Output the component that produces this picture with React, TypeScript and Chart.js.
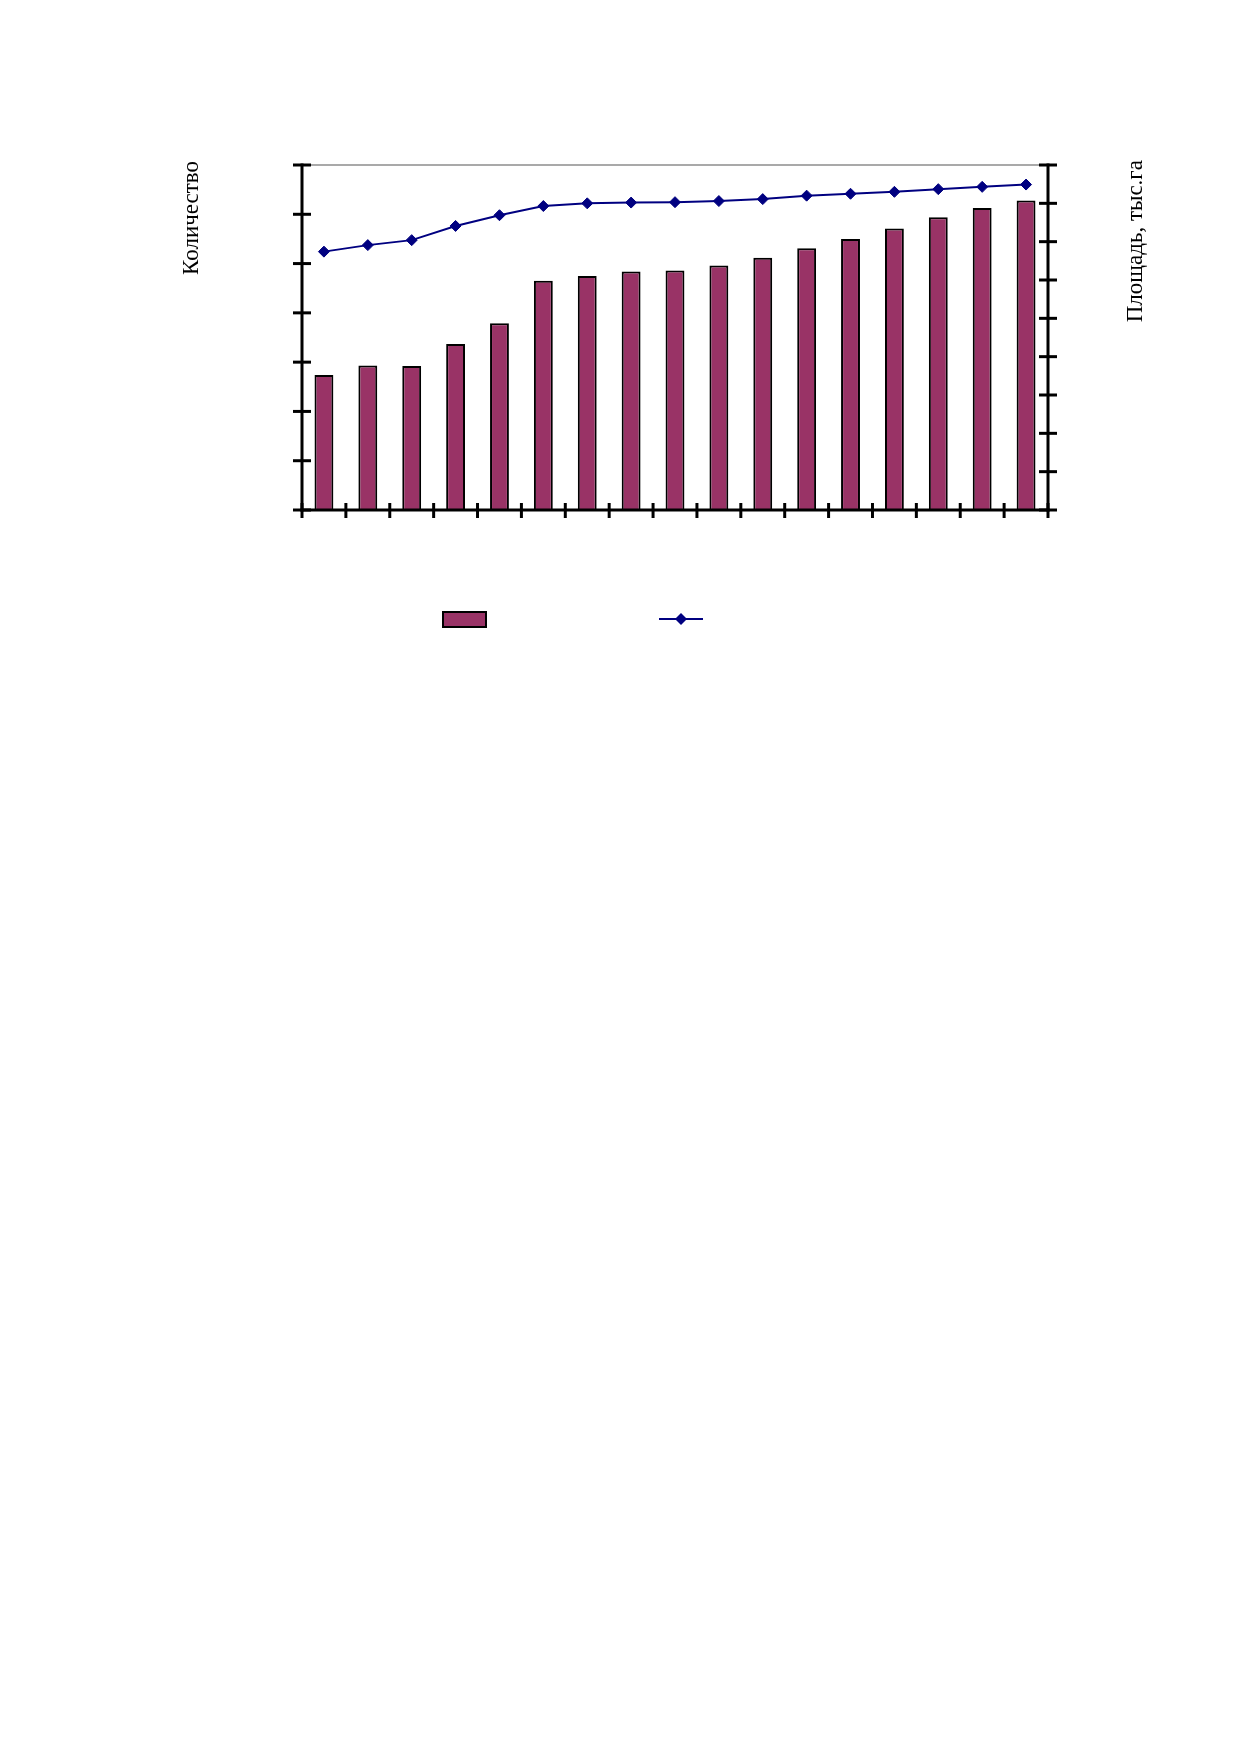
import React, { useEffect, useRef } from "react";
import { Chart, registerables } from "chart.js";

Chart.register(...registerables);

// categories (years are not printed on the chart)
const years = [
  "1991", "1992", "1993", "1994", "1995", "1996", "1997", "1998", "1999",
  "2000", "2001", "2002", "2003", "2004", "2005", "2006", "2007",
];

// bars, left axis
const countValues = [274, 293, 292, 337, 379, 465, 475, 484, 486, 496, 512, 531, 550, 571, 594, 613, 628];

// line, right axis
const areaValues = [674, 691, 704, 741, 769, 793, 800, 802, 803, 806, 811, 820, 825, 830, 837, 843, 849];

const countAxis = { min: 0, max: 700, step: 100 };
const areaAxis = { min: 0, max: 900, step: 100 };

const countTitle = "Количество";
const areaTitle = "Площадь, тыс.га";

const BAR_COLOR = "#993366";
const LINE_COLOR = "#000080";
const TITLE_FONT = '23px "Liberation Serif", "DejaVu Serif", serif';

// axes drawn as in the original: thick black lines with crossing tick marks
const axisFrame = {
  id: "axisFrame",
  afterDatasetsDraw(chart: any) {
    const { ctx, chartArea, scales } = chart;
    const { left, right, top, bottom } = chartArea;
    const seg = (x1: number, y1: number, x2: number, y2: number) => {
      ctx.beginPath();
      ctx.moveTo(x1, y1);
      ctx.lineTo(x2, y2);
      ctx.stroke();
    };
    ctx.save();
    ctx.lineCap = "butt";

    ctx.strokeStyle = "#8c8c8c";
    ctx.lineWidth = 1.5;
    seg(left, top, right, top);

    ctx.strokeStyle = "#000000";
    ctx.lineWidth = 3;
    seg(left, top - 1.5, left, bottom + 1.5);
    seg(right, top - 1.5, right, bottom + 1.5);
    seg(left - 1.5, bottom, right + 1.5, bottom);

    scales.yCount.ticks.forEach((t: any) => {
      const y = scales.yCount.getPixelForValue(t.value);
      seg(left - 9, y, left + 9, y);
    });
    scales.yArea.ticks.forEach((t: any) => {
      const y = scales.yArea.getPixelForValue(t.value);
      seg(right - 9, y, right + 9, y);
    });
    for (let i = 0; i <= chart.data.labels.length; i++) {
      const x = scales.x.getPixelForValue(i - 0.5);
      seg(x, bottom - 7, x, bottom + 8);
    }

    // axis titles, both read bottom to top
    ctx.fillStyle = "#000000";
    ctx.font = TITLE_FONT;
    ctx.textAlign = "right";
    ctx.textBaseline = "alphabetic";
    ctx.save();
    ctx.translate(left - 104, top - 4);
    ctx.rotate(-Math.PI / 2);
    ctx.fillText(countTitle, 0, 0);
    ctx.restore();
    ctx.save();
    ctx.translate(right + 94, top - 5);
    ctx.rotate(-Math.PI / 2);
    ctx.fillText(areaTitle, 0, 0);
    ctx.restore();

    ctx.restore();
  },
};

// legend without labels: a bar swatch and a line with a diamond marker
const swatchLegend = {
  id: "swatchLegend",
  afterDraw(chart: any) {
    const { ctx, chartArea } = chart;
    const bar = chart.data.datasets[0];
    const line = chart.data.datasets[1];
    const bx = chartArea.left + 141;
    const by = chartArea.bottom + 102;
    ctx.save();
    ctx.fillStyle = bar.backgroundColor;
    ctx.fillRect(bx, by, 43, 15);
    ctx.strokeStyle = "#000000";
    ctx.lineWidth = 2;
    ctx.strokeRect(bx, by, 43, 15);

    const lx = chartArea.left + 357;
    const ly = chartArea.bottom + 109;
    ctx.strokeStyle = line.borderColor;
    ctx.lineWidth = 2;
    ctx.beginPath();
    ctx.moveTo(lx, ly);
    ctx.lineTo(lx + 44, ly);
    ctx.stroke();
    const cx = lx + 22;
    const r = 6;
    ctx.fillStyle = line.pointBackgroundColor;
    ctx.beginPath();
    ctx.moveTo(cx - r, ly);
    ctx.lineTo(cx, ly - r);
    ctx.lineTo(cx + r, ly);
    ctx.lineTo(cx, ly + r);
    ctx.closePath();
    ctx.fill();
    ctx.restore();
  },
};

const ComboChart: React.FC = () => {
  const canvasRef = useRef<HTMLCanvasElement | null>(null);
  const chartRef = useRef<Chart | null>(null);

  useEffect(() => {
    if (!canvasRef.current) return;
    if (chartRef.current) chartRef.current.destroy();

    chartRef.current = new Chart(canvasRef.current, {
      type: "bar",
      data: {
        labels: years,
        datasets: [
          {
            type: "bar",
            label: countTitle,
            data: countValues,
            yAxisID: "yCount",
            backgroundColor: BAR_COLOR,
            borderColor: "#000000",
            borderWidth: 2,
            barPercentage: 0.43,
            categoryPercentage: 1,
            order: 2,
          },
          {
            type: "line",
            label: areaTitle,
            data: areaValues,
            yAxisID: "yArea",
            borderColor: LINE_COLOR,
            borderWidth: 2,
            pointStyle: "rectRot",
            pointRadius: 5.5,
            pointBorderWidth: 1,
            pointBackgroundColor: LINE_COLOR,
            pointBorderColor: LINE_COLOR,
            tension: 0,
            fill: false,
            order: 1,
          },
        ] as any,
      },
      options: {
        responsive: true,
        maintainAspectRatio: false,
        animation: false,
        layout: {
          padding: { left: 294, top: 157, right: 183, bottom: 198 },
        },
        plugins: {
          legend: { display: false },
          tooltip: { enabled: false },
        },
        scales: {
          x: {
            display: false,
            offset: true,
            grid: { display: false },
          },
          yCount: {
            display: false,
            position: "left",
            min: countAxis.min,
            max: countAxis.max,
            ticks: { stepSize: countAxis.step },
            grid: { display: false },
          },
          yArea: {
            display: false,
            position: "right",
            min: areaAxis.min,
            max: areaAxis.max,
            ticks: { stepSize: areaAxis.step },
            grid: { display: false },
          },
        },
      },
      plugins: [axisFrame, swatchLegend],
    });

    return () => {
      if (chartRef.current) {
        chartRef.current.destroy();
        chartRef.current = null;
      }
    };
  }, []);

  return (
    <div style={{ position: "relative", width: "1223px", height: "700px" }}>
      <canvas ref={canvasRef}></canvas>
    </div>
  );
};

export default function App() {
  return <ComboChart />;
}
